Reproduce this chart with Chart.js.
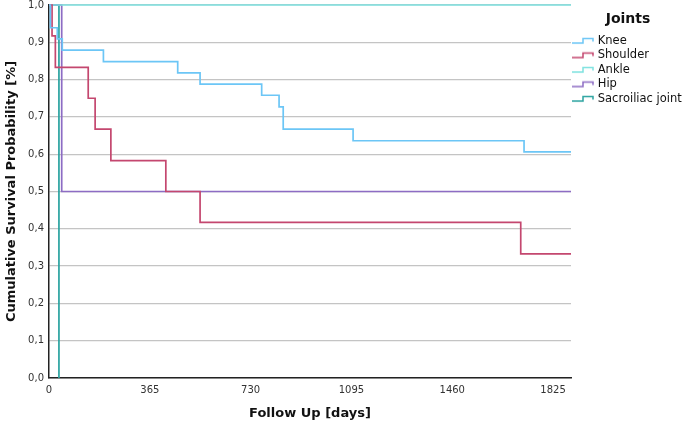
<!DOCTYPE html>
<html>
<head>
<meta charset="utf-8">
<title>Survival by joint</title>
<script src="https://cdn.jsdelivr.net/npm/chart.js@4.4.1/dist/chart.umd.min.js"></script>
<style>
  html, body { margin: 0; padding: 0; background: #fff; }
  #wrap { width: 685px; height: 426px; position: relative; }
</style>
</head>
<body>
<div id="wrap"><canvas id="chart"></canvas></div>
<script>
// Kaplan-Meier steps (days, survival after that day)
var seriesNames = ["Knee", "Shoulder", "Ankle", "Hip", "Sacroiliac joint"];
var kneeDays = [0, 5, 30, 48, 197, 466, 547, 770, 833, 848, 1101, 1720, 1890];
var kneeSurv = [1, 0.939, 0.909, 0.879, 0.848, 0.818, 0.788, 0.758, 0.727, 0.667, 0.636, 0.606, 0.606];
var shoulderDays = [0, 11, 23, 142, 167, 224, 423, 547, 1708, 1890];
var shoulderSurv = [1, 0.917, 0.833, 0.75, 0.667, 0.583, 0.5, 0.417, 0.333, 0.333];
var ankleDays = [0, 1890];
var ankleSurv = [1, 1];
var hipDays = [0, 46, 1890];
var hipSurv = [1, 0.5, 0.5];
var sacroDays = [0, 36];
var sacroSurv = [1, 0];
var xTicks = [0, 365, 730, 1095, 1460, 1825];
var yTicks = [0, 0.1, 0.2, 0.3, 0.4, 0.5, 0.6, 0.7, 0.8, 0.9, 1.0];
var xMax = 1890;
var colors = ["#6cc6f6", "#c4476f", "#7ee2e0", "#8d6cc4", "#2aa3a0"];

Chart.defaults.font.family = "'DejaVu Sans', sans-serif";
Chart.defaults.color = "#222";

function toPoints(days, surv) {
  var pts = [];
  for (var i = 0; i < days.length; i++) {
    pts.push({ x: days[i], y: surv[i] });
  }
  return pts;
}

// little step glyph used as the legend marker
function stepIcon(color) {
  var c = document.createElement("canvas");
  c.width = 22;
  c.height = 9;
  var ctx = c.getContext("2d");
  ctx.strokeStyle = color;
  ctx.lineWidth = 1.5;
  ctx.beginPath();
  ctx.moveTo(0, 7);
  ctx.lineTo(11, 7);
  ctx.lineTo(11, 2.5);
  ctx.lineTo(21, 2.5);
  ctx.lineTo(21, 5.5);
  ctx.stroke();
  return c;
}

function makeDataset(i, days, surv) {
  return {
    label: seriesNames[i],
    data: toPoints(days, surv),
    borderColor: colors[i],
    backgroundColor: colors[i],
    borderWidth: 1.7,
    stepped: "before",
    pointRadius: 0,
    pointHoverRadius: 0,
    pointStyle: stepIcon(colors[i]),
    clip: 4,
    fill: false
  };
}

var datasets = [
  makeDataset(0, kneeDays, kneeSurv),
  makeDataset(1, shoulderDays, shoulderSurv),
  makeDataset(2, ankleDays, ankleSurv),
  makeDataset(3, hipDays, hipSurv),
  makeDataset(4, sacroDays, sacroSurv)
];

new Chart(document.getElementById("chart"), {
  type: "line",
  data: { datasets: datasets },
  options: {
    responsive: true,
    maintainAspectRatio: false,
    animation: false,
    layout: { padding: 0 },
    plugins: {
      tooltip: { enabled: false },
      legend: {
        position: "right",
        align: "start",
        maxWidth: 114,
        title: {
          display: true,
          text: "Joints",
          color: "#111",
          font: { size: 14, weight: "bold" },
          padding: { top: 12, bottom: 3 }
        },
        labels: {
          usePointStyle: true,
          pointStyleWidth: 18,
          padding: 3,
          color: "#111",
          font: { size: 11.5 }
        }
      }
    },
    scales: {
      x: {
        type: "linear",
        min: 0,
        max: xMax,
        afterBuildTicks: function (scale) {
          scale.ticks = xTicks.map(function (v) { return { value: v }; });
        },
        afterFit: function (scale) { scale.height = 48; },
        grid: { display: false, drawTicks: false },
        border: { display: true, color: "#222", width: 1.5 },
        ticks: {
          padding: 6,
          color: "#333",
          font: { size: 10 },
          maxRotation: 0,
          callback: function (v) { return String(v); }
        },
        title: {
          display: true,
          text: "Follow Up [days]",
          color: "#111",
          font: { size: 13, weight: "bold" },
          padding: { top: 4, bottom: 5 }
        }
      },
      y: {
        min: 0,
        max: 1,
        afterBuildTicks: function (scale) {
          scale.ticks = yTicks.map(function (v) { return { value: v }; });
        },
        afterFit: function (scale) {
          scale.width = 49;
          scale.paddingTop = 5;
        },
        grid: { color: "#c4c4c4", lineWidth: 1.3, drawTicks: false },
        border: { display: true, color: "#222", width: 1.5 },
        ticks: {
          padding: 5,
          color: "#333",
          font: { size: 10, lineHeight: 1 },
          callback: function (v) { return v.toFixed(1).replace(".", ","); }
        },
        title: {
          display: true,
          text: "Cumulative Survival Probability [%]",
          color: "#111",
          font: { size: 13, weight: "bold" },
          padding: { top: 4, bottom: 2 }
        }
      }
    }
  }
});
</script>
</body>
</html>
